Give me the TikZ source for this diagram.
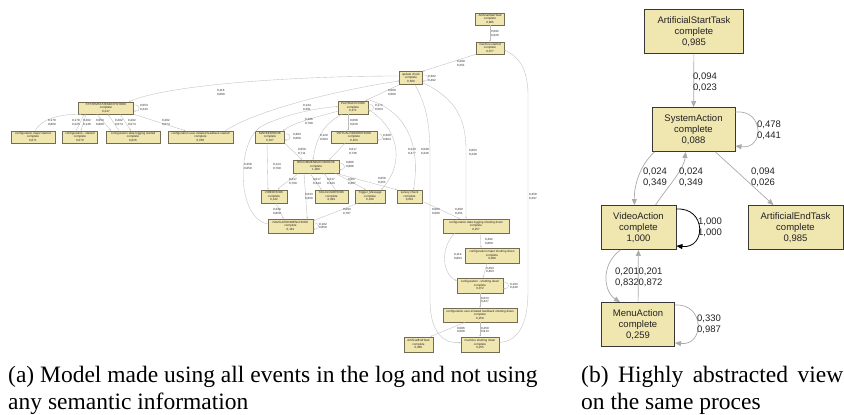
\documentclass[tikz,border=0pt]{standalone}
\usepackage{fontspec}
\setmainfont{Liberation Serif}
\newfontfamily\arialf{Liberation Sans}
\usetikzlibrary{arrows.meta}
\definecolor{nfill}{RGB}{240,230,176}
\definecolor{lbord}{RGB}{115,108,82}
\definecolor{rbord}{RGB}{55,55,55}
\definecolor{egray}{RGB}{190,190,190}
\definecolor{rgray}{RGB}{170,170,170}
\definecolor{ltext}{RGB}{35,35,35}
\tikzset{
 lnode/.style={draw=lbord, fill=nfill, line width=0.55pt, inner sep=0pt, align=center, text=ltext, font=\arialf\fontsize{3}{3.5}\selectfont},
 ledge/.style={draw=egray, line width=0.35pt, -{Stealth[length=1.8pt,width=1.5pt]}},
 llab/.style={anchor=west, inner sep=0pt, align=left, text=ltext, font=\arialf\fontsize{3}{3.5}\selectfont},
 rnode/.style={draw=rbord, fill=nfill, line width=0.9pt, inner sep=0pt, align=center, minimum height=44pt, text=ltext, font=\arialf\fontsize{9.5}{11.3}\selectfont},
 redge/.style={draw=rgray, line width=0.7pt, -{Triangle[length=6pt,width=5pt]}},
 rlab/.style={anchor=west, inner sep=0pt, align=left, text=ltext, font=\arialf\fontsize{9.5}{11}\selectfont},
 captxt/.style={anchor=base west, inner sep=0pt, font=\fontsize{23.5}{27}\selectfont},
}
\begin{document}
\begin{tikzpicture}[x=1pt,y=-1pt]
\fill[white] (0,0) rectangle (844,415);
\useasboundingbox (0,0) rectangle (844,415);

% ---------------- left model (a) ----------------
\node[lnode, minimum width=29pt, minimum height=12pt] (aST) at (490,19) {ArtificialStartTask\\complete\\0,985};
\node[lnode, minimum width=28pt, minimum height=12pt] (mS) at (490,48) {machine started\\complete\\0,077};
\node[lnode, minimum width=23pt, minimum height=13pt] (uc) at (411,78) {update check\\complete\\0,500};
\node[lnode, minimum width=55pt, minimum height=12pt] (sys) at (106,108) {SYSTEMSTATEMENTSHOOK\\complete\\0,247};
\node[lnode, minimum width=44pt, minimum height=12pt] (cmapst) at (33,137) {configuration.map2 started\\complete\\0,071};
\node[lnode, minimum width=35pt, minimum height=12pt] (cst) at (80,137) {configuration - started\\complete\\0,079};
\node[lnode, minimum width=54pt, minimum height=12pt] (cdlst) at (133,137) {configuration.data logging started\\complete\\0,026};
\node[lnode, minimum width=65pt, minimum height=12pt] (cfbst) at (200.5,137) {configuration.user-initiated feedback started\\complete\\0,050};
\node[lnode, minimum width=30pt, minimum height=13pt] (pb) at (353,107.5) {PLAYBACKHOOK\\complete\\0,271};
\node[lnode, minimum width=29pt, minimum height=12pt] (mk) at (270,137) {MARKERHOOK\\complete\\0,167};
\node[lnode, minimum width=46pt, minimum height=12pt] (vr) at (354,137) {VIRTUALVIDEOREHOOK\\complete\\0,153};
\node[lnode, minimum width=46pt, minimum height=13pt] (rc) at (316,166.5) {RECOMMENDATIONHOOK\\complete\\1,000};
\node[lnode, minimum width=26pt, minimum height=13pt] (vd) at (274,196.5) {VIDEOHOOK\\complete\\0,132};
\node[lnode, minimum width=33pt, minimum height=13pt] (tg) at (331.5,196.5) {TAGCLOUDHOOK\\complete\\0,091};
\node[lnode, minimum width=30pt, minimum height=13pt] (tm) at (370,196.5) {Trigger\_Message\\complete\\0,230};
\node[lnode, minimum width=25pt, minimum height=13pt] (sv) at (409.5,196.5) {survey check\\complete\\0,032};
\node[lnode, minimum width=45pt, minimum height=14pt] (nv) at (290.5,226) {NAVIGATIONMENUHOOK\\complete\\0,181};
\node[lnode, minimum width=66pt, minimum height=14pt] (cdlsd) at (476,226) {configuration.data logging shutting down\\complete\\0,257};
\node[lnode, minimum width=54pt, minimum height=15pt] (cmapsd) at (492,255.5) {configuration.map2 shutting down\\complete\\0,098};
\node[lnode, minimum width=46pt, minimum height=15pt] (csd) at (480,285.5) {configuration - shutting down\\complete\\0,072};
\node[lnode, minimum width=74pt, minimum height=14pt] (cfbsd) at (480,315) {configuration.user-initiated feedback shutting down\\complete\\0,259};
\node[lnode, minimum width=29pt, minimum height=15pt] (aET) at (418.5,344.5) {ArtificialEndTask\\complete\\0,985};
\node[lnode, minimum width=38pt, minimum height=15pt] (mSD) at (480,344.5) {machine shutting down\\complete\\0,255};

% edges (a)
\draw[ledge] (aST) -- (mS);
\node[llab] (l1) at (491,33.5) {0,092\\0,026};
\draw[ledge] (mS.south west) -- (uc.north east);
\node[llab] (l2) at (457,63.5) {0,299\\0,251};
\draw[ledge] ([yshift=3pt]uc.east) .. controls +(7,-1) and +(7,1) .. ([yshift=-3pt]uc.east);
\node[llab] (l3) at (428,78.5) {0,302\\0,492};
\draw[ledge] ([yshift=2pt]uc.west) .. controls (300,76) and (170,84) .. ([xshift=-5pt]sys.north east);
\node[llab] (l4) at (217,92.5) {0,116\\0,000};
\draw[ledge] ([yshift=3pt]sys.east) .. controls +(7,-1) and +(7,1) .. ([yshift=-3pt]sys.east);
\node[llab] (l5) at (140,107.5) {0,053\\0,443};
\draw[ledge] ([xshift=2pt]cmapst.north) .. controls (42,118) and (62,114) .. ([xshift=3pt]sys.south west);
\node[llab] (l6a) at (48,122.5) {0,178\\0,800};
\draw[ledge] ([xshift=-4pt]cst.north) -- ([xshift=6pt]sys.south west);
\node[llab] (l6b) at (72,122.5) {0,178\\0,225};
\draw[ledge] ([xshift=-20pt]sys.south) -- ([xshift=1pt]cst.north);
\node[llab] (l6c) at (83,122.5) {0,202\\0,146};
\draw[ledge] ([xshift=-9pt]sys.south) -- ([xshift=-22pt]cdlst.north);
\node[llab] (l6d) at (96,122.5) {0,053\\0,800};
\draw[ledge] ([xshift=-14pt]cdlst.north) -- ([xshift=2pt]sys.south);
\node[llab] (l6e) at (115,122.5) {0,202\\0,074};
\draw[ledge] ([xshift=14pt]sys.south) -- ([xshift=-2pt]cdlst.north);
\node[llab] (l6f) at (128,122.5) {0,202\\0,074};
\draw[ledge] (sys.south east) -- ([xshift=-15pt]cfbst.north);
\node[llab] (l6g) at (162,122.5) {0,202\\0,074};
\draw[ledge] ([xshift=-8pt]cfbst.north east) .. controls (260,108) and (350,88) .. ([yshift=-3pt]uc.west);
\node[llab] (l7) at (303,107.5) {0,134\\0,201};
\draw[ledge] (uc.south west) -- ([xshift=-3pt]pb.north east);
\node[llab] (l8) at (388,92.5) {0,068\\0,000};
\draw[ledge] ([yshift=3pt]pb.east) .. controls +(7,-1) and +(7,1) .. ([yshift=-3pt]pb.east);
\node[llab] (l9) at (375,107.5) {0,176\\0,564};
\draw[ledge] ([yshift=3pt]pb.south west) .. controls (320,116) and (295,122) .. ([xshift=-2pt]mk.north east);
\node[llab] (l10) at (305,121.5) {0,166\\0,799};
\draw[ledge] ([yshift=3pt]mk.east) .. controls +(7,-1) and +(7,1) .. ([yshift=-3pt]mk.east);
\node[llab] (l11) at (293,136.5) {0,384\\0,609};
\draw[ledge] ([xshift=-5pt]pb.south) -- ([xshift=-6pt]vr.north);
\node[llab] (l12) at (350,122.5) {0,068\\0,029};
\draw[ledge] ([yshift=3pt]vr.east) .. controls +(7,-1) and +(7,1) .. ([yshift=-3pt]vr.east);
\node[llab] (l13) at (383,137.5) {0,200\\0,864};
\draw[ledge] ([xshift=4pt]pb.south west) .. controls (322,125) and (316,140) .. ([xshift=-3pt]rc.north);
\node[llab] (l14) at (320,137.5) {0,120\\0,584};
\draw[ledge] (mk.south east) -- ([xshift=-14pt]rc.north);
\node[llab] (l15) at (298,151.5) {0,059\\0,711};
\draw[ledge] ([xshift=-9pt]vr.south) -- ([xshift=-10pt]rc.north east);
\node[llab] (l16) at (349,151.5) {0,017\\0,736};
\draw[ledge] ([yshift=-2pt]pb.east) .. controls (395,125) and (408,160) .. ([xshift=-4pt]tm.north east);
\node[llab] (l17) at (408,151.5) {0,240\\0,477};
\draw[ledge] ([yshift=1pt]pb.north east) .. controls (410,112) and (420,150) .. ([xshift=4pt]sv.north);
\node[llab] (l18) at (421,151.5) {0,048\\0,246};
\draw[ledge] ([yshift=3pt]rc.east) .. controls +(7,-1) and +(7,1) .. ([yshift=-3pt]rc.east);
\node[llab] (l19) at (346,164.5) {0,886\\0,886};
\draw[ledge] ([xshift=-18pt]rc.south) .. controls (292,180) and (282,184) .. ([xshift=4pt]vd.north);
\node[llab] (l20) at (289,181.5) {0,417\\0,769};
\draw[ledge] ([xshift=-3pt]mk.south) -- ([xshift=-6pt]vd.north);
\node[llab] (l21) at (273,166.5) {0,124\\0,799};
\draw[ledge] ([xshift=-6pt]rc.south) -- ([xshift=-10pt]tg.north);
\node[llab] (l22) at (313,181.5) {0,017\\0,344};
\draw[ledge] ([xshift=4pt]tg.north) -- ([xshift=8pt]rc.south);
\node[llab] (l23) at (327,181.5) {0,017\\0,343};
\draw[ledge] ([xshift=-4pt]rc.south east) -- ([xshift=-4pt]tm.north);
\node[llab] (l24) at (348,181.5) {0,067\\0,467};
\draw[ledge] ([yshift=-1pt]rc.south east) -- (sv.north west);
\node[llab] (l25) at (378,180.5) {0,058\\0,251};
\draw[ledge] ([xshift=-12pt]rc.south) -- ([xshift=-6pt]nv.north east);
\node[llab] (l26) at (305,196.5) {0,033\\0,050};
\draw[ledge] ([xshift=2pt]vd.south) -- ([xshift=-7pt]nv.north);
\node[llab] (l27) at (273,211.5) {0,228\\0,850};
\draw[ledge] ([xshift=3pt]tm.south west) -- ([yshift=-2pt]nv.north east);
\node[llab] (l28) at (343,211.5) {0,093\\0,787};
\draw[ledge] ([yshift=3pt]nv.east) .. controls +(7,-1) and +(7,1) .. ([yshift=-3pt]nv.east);
\node[llab] (l29) at (319,226) {0,102\\0,850};
\draw[ledge] ([yshift=2pt]nv.west) .. controls (236,218) and (236,140) .. (262,126) .. controls (285,114) and (318,108) .. ([yshift=1pt]pb.west);
\node[llab] (l30) at (244,166.5) {0,458\\0,050};
\draw[ledge] ([yshift=2pt]sv.south east) -- ([xshift=-16pt]cdlsd.north);
\node[llab] (l31) at (455,211.5) {0,400\\0,251};
\draw[ledge] ([yshift=2pt]uc.south east) .. controls (455,98) and (466,118) .. (466,150) -- ([xshift=-10pt]cdlsd.north);
\node[llab] (l32) at (469,152.5) {0,063\\0,248};
\draw[ledge] ([xshift=4pt]uc.south) .. controls (428,108) and (430,128) .. (430,160) -- (430,300) .. controls (430,334) and (445,344) .. ([yshift=2pt]mSD.west);
\node[llab] (l33) at (432,211.5) {0,063\\0,000};
\draw[ledge] ([yshift=2pt]mSD.east) .. controls (520,341) and (528,322) .. (528,290) -- (528,95) .. controls (528,68) and (518,56) .. ([yshift=-2pt]mS.east);
\node[llab] (l34) at (529,196.5) {0,458\\0,297};
\draw[ledge] ([xshift=4pt]cdlsd.south) -- ([xshift=-11pt]cmapsd.north);
\node[llab] (l35) at (485,241.5) {0,492\\0,869};
\draw[ledge] ([xshift=12pt]cdlsd.south west) .. controls (440,248) and (442,274) .. ([yshift=-3pt]csd.north west);
\node[llab] (l36) at (454,256.5) {0,114\\0,864};
\draw[ledge] ([xshift=-5pt]cmapsd.south) -- ([xshift=3pt]csd.north);
\node[llab] (l37) at (486,270) {0,403\\0,403};
\draw[ledge] ([yshift=3pt]csd.east) .. controls +(7,-1) and +(7,1) .. ([yshift=-3pt]csd.east);
\node[llab] (l38) at (510,286) {0,103\\0,440};
\draw[ledge] (csd) -- (cfbsd);
\node[llab] (l39) at (481,300) {0,023\\0,427};
\draw[ledge] ([xshift=-15pt]cfbsd.south) -- ([xshift=-3pt]aET.north east);
\node[llab] (l40) at (457,330) {0,086\\0,008};
\draw[ledge] (cfbsd) -- (mSD);
\node[llab] (l41) at (481,330) {0,450\\0,913};

% ---------------- right model (b) ----------------
\node[rnode, minimum width=99pt] (raST) at (694,31.5) {ArtificialStartTask\\complete\\0,985};
\node[rnode, minimum width=83pt] (rsa) at (693.5,129.5) {SystemAction\\complete\\0,088};
\node[rnode, minimum width=75pt] (rva) at (638.5,227.5) {VideoAction\\complete\\1,000};
\node[rnode, minimum width=95pt] (raET) at (795.5,227.5) {ArtificialEndTask\\complete\\0,985};
\node[rnode, minimum width=73pt] (rma) at (638,324.5) {MenuAction\\complete\\0,259};

\draw[redge] (raST) -- (rsa);
\node[rlab] (r1) at (693,82) {0,094\\0,023};
\draw[redge] ([yshift=-5pt]rsa.north east) .. controls +(29,-3) and +(29,4) .. ([yshift=6pt]rsa.south east);
\node[rlab] (r2) at (757,130) {0,478\\0,441};
\draw[redge] ([xshift=3pt]rsa.south west) .. controls (640,165) and (634,185) .. ([xshift=-4pt]rva.north);
\node[rlab] (r3) at (643,177) {0,024\\0,349};
\draw[redge] ([xshift=17pt]rva.north) .. controls (665,190) and (684,170) .. ([xshift=-8pt]rsa.south);
\node[rlab] (r4) at (679,177) {0,024\\0,349};
\draw[redge] ([xshift=22pt]rsa.south) -- ([xshift=-22pt]raET.north);
\node[rlab] (r5) at (751,177) {0,094\\0,026};
\draw[redge, draw=black, line width=0.8pt] ([yshift=-4pt]rva.north east) .. controls +(30,-2) and +(30,3) .. ([yshift=4pt]rva.south east);
\node[rlab] (r6) at (698,227.5) {1,000\\1,000};
\draw[redge] ([xshift=-18pt]rva.south) .. controls (600,265) and (604,292) .. ([xshift=-18pt]rma.north);
\node[rlab] (r7) at (615,277) {0,201\\0,832};
\draw[redge] (rma) -- (rva);
\node[rlab] (r8) at (638.5,277) {0,201\\0,872};
\draw[redge] ([yshift=-3pt]rma.north east) .. controls +(30,-2) and +(30,3) .. ([yshift=4pt]rma.south east);
\node[rlab] (r9) at (697,324.5) {0,330\\0,987};

% ---------------- captions ----------------
\node[captxt] (capa1) at (8,382.5) {(a) Model made using all events in the log and not using};
\node[captxt] (capa2) at (8,409) {any semantic information};
\node[captxt] (capb1) at (581,382.5) {\makebox[262pt][s]{(b) Highly abstracted view}};
\node[captxt] (capb2) at (581,409) {on the same proces};
\end{tikzpicture}
\end{document}
